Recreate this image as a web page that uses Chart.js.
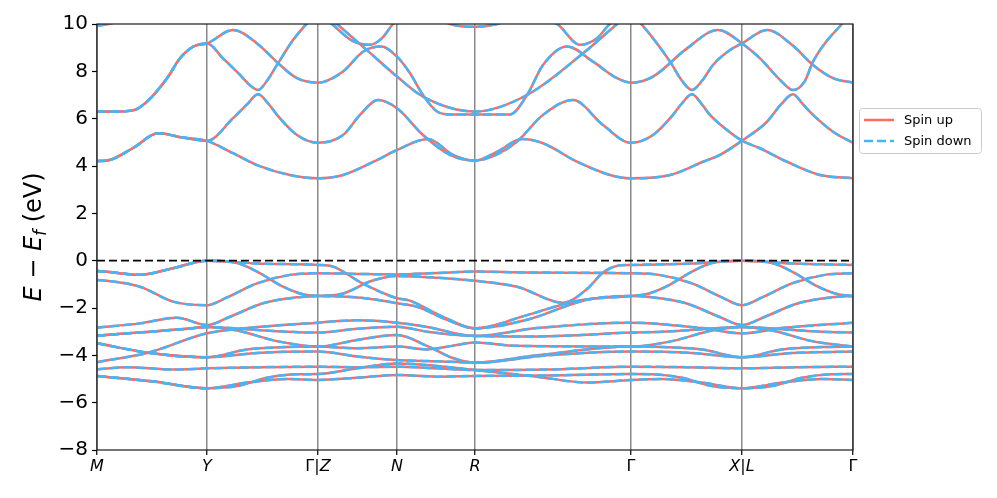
<!DOCTYPE html>
<html><head><meta charset="utf-8">
<script src="https://cdn.jsdelivr.net/npm/chart.js@4.4.1/dist/chart.umd.min.js"></script>
<style>html,body{margin:0;padding:0;background:#fff;}#wrap{width:997px;height:498px;}</style>
</head><body><div id="wrap"><canvas id="c" width="997" height="498"></canvas></div>
<script>
// High-symmetry path (k distance, arbitrary units) and labels
const kNodes = [0, 110, 221, 300, 378, 534, 645, 756];
const kLabels = ['M', 'Y', 'Γ|Z', 'N', 'R', 'Γ', 'X|L', 'Γ'];
const yMin = -8, yMax = 10, yStep = 2;
const fermiLevel = [[0, 0], [756, 0]];

// Conduction bands [k, E (eV)]
const cb1 = [[0,4.21],[10,4.23],[36,4.76],[61,5.38],[86,5.20],[110,5.06],[136,4.54],[160,4.04],[193,3.62],[221,3.48],[246,3.62],[280,4.25],[300,4.68],[331,5.14],[356,4.47],[378,4.23],[400,4.6],[425,5.14],[446,4.96],[480,4.18],[513,3.62],[534,3.48],[573,3.62],[606,4.18],[623,4.47],[645,5.07],[670,5.87],[684,6.6],[696,7.03],[706,6.6],[716,6.16],[736,5.45],[756,4.98]];
const cb2 = [[0,4.21],[10,4.23],[36,4.76],[61,5.38],[86,5.20],[110,5.06],[136,6.02],[150,6.6],[161,7.03],[172,6.6],[180,6.16],[200,5.31],[221,4.98],[246,5.31],[263,6.16],[281,6.79],[300,6.44],[326,5.31],[353,4.47],[378,4.23],[400,4.49],[420,5.03],[446,6.16],[476,6.79],[506,5.73],[534,4.98],[556,5.31],[576,6.16],[584,6.6],[595,7.03],[605,6.6],[613,6.16],[630,5.52],[645,5.07],[663,4.75],[690,4.18],[723,3.62],[756,3.48]];
const cb3 = [[0,6.30],[15,6.30],[36,6.35],[50,6.72],[70,7.71],[83,8.55],[96,9.04],[110,9.18],[136,9.75],[160,9.18],[183,8.27],[200,7.71],[221,7.52],[246,7.99],[266,8.83],[284,9.05],[300,8.62],[313,7.92],[326,7.0],[340,6.30],[353,6.18],[378,6.18],[413,6.18],[430,7.0],[446,8.27],[470,9.05],[496,8.41],[520,7.71],[534,7.52],[556,7.78],[590,8.97],[621,9.75],[645,9.18],[663,8.55],[684,7.6],[696,7.21],[708,7.6],[716,8.41],[745,10.0],[756,10.4]];
const cb4 = [[0,6.30],[15,6.30],[36,6.35],[50,6.72],[70,7.71],[83,8.55],[96,9.04],[110,9.18],[126,8.55],[143,7.85],[152,7.45],[161,7.21],[170,7.6],[180,8.27],[196,9.32],[210,10.03],[221,10.5],[235,10.0],[255,9.3],[273,9.12],[285,9.4],[296,10.0],[300,10.15],[330,10.5],[353,10.0],[378,9.88],[400,10.0],[430,10.4],[460,10.0],[483,9.12],[500,9.4],[513,10.0],[534,10.4],[545,9.96],[573,8.41],[585,7.6],[595,7.21],[605,7.6],[616,8.27],[633,8.90],[645,9.18],[670,9.75],[696,9.08],[716,8.27],[736,7.71],[756,7.52]];
const cb5 = [[0,9.93],[16,10.05],[50,10.8],[110,11],[221,10.7],[240,10.0],[273,8.78],[300,7.78],[326,6.93],[378,6.30],[430,7.0],[486,8.76],[520,10.0],[534,10.5],[645,11],[756,11]];

// Valence bands [k, E (eV)]
const vbA  = [[0,-0.44],[10,-0.47],[43,-0.60],[76,-0.32],[110,0],[130,-0.03],[160,-0.12],[221,-0.18],[236,-0.25],[265,-0.95],[300,-1.59],[312,-1.68],[345,-2.35],[378,-2.86],[430,-2.3],[480,-1.7],[534,-1.49],[549,-1.42],[569,-1.10],[595,-0.46],[615,-0.1],[645,0],[675,-0.1],[695,-0.46],[721,-1.10],[741,-1.42],[756,-1.49]];
const vbA2 = [[0,-0.44],[10,-0.47],[43,-0.60],[76,-0.32],[110,0],[140,-0.1],[160,-0.46],[186,-1.10],[206,-1.42],[221,-1.49],[250,-1.52],[280,-1.65],[300,-1.80],[320,-1.95],[350,-2.5],[378,-2.86],[430,-2.5],[490,-1.65],[534,-1.49],[555,-1.55],[589,-1.80],[622,-2.37],[645,-2.72],[668,-2.37],[701,-1.80],[735,-1.55],[756,-1.49]];
const vbB  = [[0,-0.82],[10,-0.85],[43,-1.10],[76,-1.73],[110,-1.88],[130,-1.55],[160,-0.96],[193,-0.6],[221,-0.53],[260,-0.56],[300,-0.58],[340,-0.52],[378,-0.46],[430,-0.5],[534,-0.53],[562,-0.6],[595,-0.96],[625,-1.55],[645,-1.88],[665,-1.55],[695,-0.96],[728,-0.6],[756,-0.53]];
const vbC  = [[0,-2.83],[43,-2.65],[80,-2.41],[110,-2.72],[133,-2.37],[166,-1.80],[200,-1.55],[221,-1.49],[245,-1.4],[275,-0.85],[300,-0.65],[340,-0.72],[378,-0.85],[420,-1.1],[466,-1.78],[490,-1.2],[506,-0.5],[520,-0.22],[534,-0.18],[595,-0.12],[625,-0.03],[645,0],[665,-0.03],[695,-0.12],[756,-0.18]];
const vbD  = [[0,-3.17],[43,-3.03],[90,-2.88],[110,-2.80],[150,-2.9],[190,-3.0],[221,-3.04],[260,-2.88],[300,-2.79],[330,-3.0],[378,-3.18],[440,-3.2],[534,-3.04],[565,-3.0],[605,-2.9],[645,-2.80],[685,-2.9],[725,-3.0],[756,-3.04]];
const vbD2 = [[0,-3.17],[43,-3.03],[90,-2.88],[110,-2.80],[140,-2.95],[180,-3.4],[221,-3.63],[260,-3.35],[300,-3.14],[330,-3.6],[355,-4.1],[378,-4.31],[440,-4.0],[534,-3.63],[565,-3.65],[605,-3.75],[645,-4.08],[685,-3.75],[725,-3.65],[756,-3.63]];
const vbE  = [[0,-3.49],[51,-3.89],[110,-4.08],[150,-3.75],[190,-3.65],[221,-3.63],[260,-3.7],[300,-3.63],[330,-3.75],[355,-3.6],[378,-3.46],[420,-3.6],[534,-3.63],[575,-3.4],[615,-2.95],[645,-2.80],[675,-2.95],[715,-3.4],[756,-3.63]];
const vbE2 = [[0,-3.49],[51,-3.89],[110,-4.08],[160,-3.9],[221,-3.84],[260,-4.05],[300,-4.20],[340,-4.25],[378,-4.31],[450,-4.0],[534,-3.84],[595,-3.9],[645,-4.08],[695,-3.9],[756,-3.84]];
const vbF  = [[0,-4.29],[51,-3.89],[110,-3.07],[150,-2.85],[221,-2.62],[260,-2.52],[300,-2.62],[330,-2.8],[378,-3.18],[440,-2.85],[534,-2.62],[605,-2.85],[645,-3.07],[685,-2.85],[756,-2.62]];
const vbG  = [[0,-4.59],[30,-4.5],[76,-4.6],[110,-4.55],[165,-4.5],[221,-4.48],[260,-4.5],[300,-4.48],[340,-4.55],[378,-4.62],[450,-4.6],[534,-4.48],[590,-4.5],[645,-4.55],[700,-4.5],[756,-4.48]];
const vbH  = [[0,-4.87],[55,-5.1],[110,-5.39],[140,-5.3],[170,-4.95],[200,-4.8],[221,-4.79],[260,-4.55],[300,-4.34],[340,-4.45],[378,-4.62],[440,-4.9],[490,-5.15],[534,-5.04],[565,-5.0],[605,-5.15],[645,-5.39],[685,-5.15],[725,-5.0],[756,-5.04]];
const vbH2 = [[0,-4.87],[55,-5.1],[110,-5.39],[150,-5.15],[190,-5.0],[221,-5.04],[260,-4.95],[300,-4.83],[340,-4.9],[378,-4.87],[450,-4.85],[534,-4.79],[555,-4.8],[585,-4.95],[615,-5.3],[645,-5.39],[675,-5.3],[705,-4.95],[735,-4.8],[756,-4.79]];

const bands = [cb1, cb2, cb3, cb4, cb5, vbA, vbA2, vbB, vbC, vbD, vbD2, vbE, vbE2, vbF, vbG, vbH, vbH2];

const RED = '#ff6b63', BLUE = '#47b4f5';
const FONT = 'DejaVu Sans';
const toXY = arr => arr.map(p => ({x: p[0], y: p[1]}));

// Chart.js paints the first dataset last (on top): Fermi line, then spin down, then spin up.
const datasets = [];
datasets.push({label: 'Ef', data: toXY(fermiLevel), borderColor: '#000', borderWidth: 1.6,
  borderDash: [8, 4], pointRadius: 0, fill: false});
bands.forEach(b => datasets.push({label: 'Spin down', data: toXY(b), borderColor: BLUE, borderWidth: 2.5,
  borderDash: [9, 4], pointRadius: 0, cubicInterpolationMode: 'monotone', fill: false}));
bands.forEach(b => datasets.push({label: 'Spin up', data: toXY(b), borderColor: RED, borderWidth: 2.5,
  pointRadius: 0, cubicInterpolationMode: 'monotone', fill: false}));

const deco = {
  id: 'deco',
  afterDatasetsDraw(chart) {
    const {ctx, chartArea: a} = chart;
    ctx.save();
    ctx.strokeStyle = '#1a1a1a'; ctx.lineWidth = 1.2;
    ctx.strokeRect(a.left, a.top, a.right - a.left, a.bottom - a.top);
    ctx.restore();
  },
  afterDraw(chart) {
    const {ctx, chartArea: a} = chart;
    const xs = chart.scales.x;
    ctx.save();
    ctx.fillStyle = '#000'; ctx.textBaseline = 'top';
    kNodes.forEach((k, i) => {
      const chars = Array.from(kLabels[i]);
      const fontOf = c => (/[A-Za-z]/.test(c) ? 'italic ' : '') + '16px "' + FONT + '"';
      let w = 0;
      chars.forEach(c => { ctx.font = fontOf(c); w += ctx.measureText(c).width; });
      let x = xs.getPixelForValue(k) - w / 2;
      chars.forEach(c => { ctx.font = fontOf(c); ctx.textAlign = 'left'; ctx.fillText(c, x, a.bottom + 9); x += ctx.measureText(c).width; });
    });
    ctx.translate(41, (a.top + a.bottom) / 2);
    ctx.rotate(-Math.PI / 2);
    const parts = [['E', 'italic ', 24, 0], [' \u2212 ', '', 24, 0], ['E', 'italic ', 24, 0], ['f', 'italic ', 17, 5], [' (eV)', '', 24, 0]];
    let tw = 0;
    parts.forEach(p => { ctx.font = p[1] + p[2] + 'px "' + FONT + '"'; tw += ctx.measureText(p[0]).width; });
    let tx = -tw / 2;
    ctx.textBaseline = 'alphabetic'; ctx.textAlign = 'left';
    parts.forEach(p => { ctx.font = p[1] + p[2] + 'px "' + FONT + '"'; ctx.fillText(p[0], tx, p[3]); tx += ctx.measureText(p[0]).width; });
    ctx.restore();
    ctx.save();
    ctx.fillStyle = 'rgba(255,255,255,0.9)'; ctx.strokeStyle = '#cccccc'; ctx.lineWidth = 1;
    ctx.beginPath(); ctx.roundRect(859.5, 108.5, 122, 45, 3); ctx.fill(); ctx.stroke();
    ctx.lineWidth = 2.5;
    ctx.strokeStyle = RED; ctx.beginPath(); ctx.moveTo(864, 120); ctx.lineTo(894, 120); ctx.stroke();
    ctx.strokeStyle = BLUE; ctx.setLineDash([9, 4]); ctx.beginPath(); ctx.moveTo(864, 141); ctx.lineTo(894, 141); ctx.stroke();
    ctx.setLineDash([]);
    ctx.fillStyle = '#000'; ctx.font = '13px "' + FONT + '"'; ctx.textBaseline = 'middle'; ctx.textAlign = 'left';
    ctx.fillText('Spin up', 904, 121);
    ctx.fillText('Spin down', 904, 142);
    ctx.restore();
  }
};

new Chart(document.getElementById('c').getContext('2d'), {
  type: 'line',
  data: {datasets},
  options: {
    responsive: false, animation: false, events: [],
    layout: {padding: {top: 24, right: 144, left: 0, bottom: 0}},
    plugins: {legend: {display: false}, tooltip: {enabled: false}},
    scales: {
      x: {type: 'linear', min: kNodes[0], max: kNodes[kNodes.length - 1],
        afterBuildTicks: s => { s.ticks = kNodes.map(v => ({value: v})); },
        afterFit: s => { s.height = 48; },
        ticks: {autoSkip: false, maxRotation: 0, callback: () => ''},
        grid: {color: '#8a8a8a', lineWidth: 1.5, tickLength: 5, tickColor: '#000', tickWidth: 1.2},
        border: {display: false}},
      y: {min: yMin, max: yMax,
        afterFit: s => { s.width = 97; },
        ticks: {stepSize: yStep, color: '#000', padding: 4, font: {size: 20, family: FONT},
          callback: v => v < 0 ? '\u2212' + Math.abs(v) : String(v)},
        grid: {drawOnChartArea: false, tickLength: 5, tickColor: '#000', tickWidth: 1.2},
        border: {display: false}}
    }
  },
  plugins: [deco]
});
</script></body></html>
